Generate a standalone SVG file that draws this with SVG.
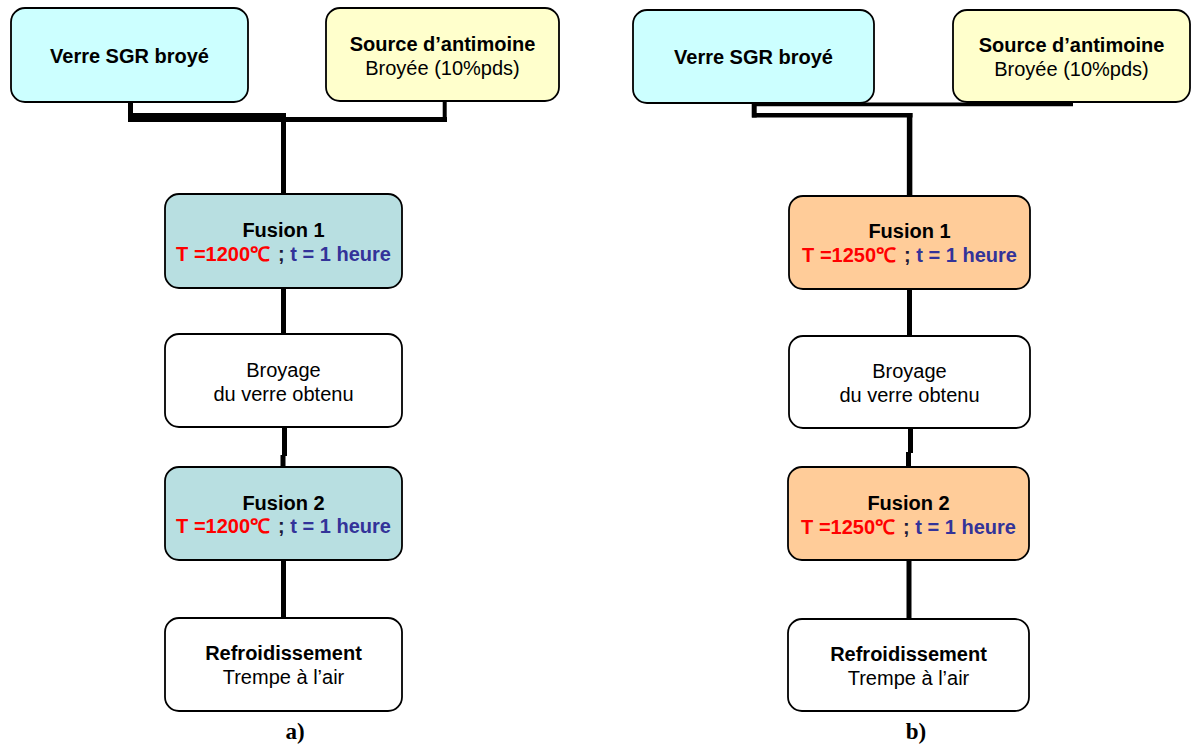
<svg xmlns="http://www.w3.org/2000/svg" width="1191" height="744" viewBox="0 0 1191 744">
<style>
.box{stroke:#000;stroke-width:1.8}
.blue{fill:#CCFFFF}
.yel{fill:#FFFFCC}
.fa{fill:#B8DFE1}
.fb{fill:#FFCC99}
.wh{fill:#FFFFFF}
.t{font-family:"Liberation Sans",Arial,sans-serif;font-size:20px;text-anchor:middle;fill:#000}
.b{font-weight:bold}
.red{fill:#FF0000}
.nav{fill:#333399}
.semi{fill:#1a1a3a}
.lab{font-family:"Liberation Serif","Times New Roman",serif;font-size:23px;font-weight:bold;text-anchor:middle;fill:#000}
.c{stroke:#000;fill:none;stroke-linecap:butt;stroke-linejoin:miter}
</style>
<rect width="1191" height="744" fill="#FFFFFF"/>
<g id="connectors">
<!-- panel a -->
<line class="c" x1="130.5" y1="100" x2="130.5" y2="117" stroke-width="5"/>
<rect x="128" y="113" width="158" height="9" fill="#000"/>
<line class="c" x1="286" y1="119.5" x2="447" y2="119.5" stroke-width="5"/>
<line class="c" x1="444.7" y1="100" x2="444.7" y2="122" stroke-width="4"/>
<line class="c" x1="283.5" y1="117" x2="283.5" y2="195" stroke-width="5"/>
<line class="c" x1="283.5" y1="287" x2="283.5" y2="335" stroke-width="5"/>
<line class="c" x1="284.5" y1="426" x2="284.5" y2="456" stroke-width="5"/>
<line class="c" x1="283" y1="455" x2="283" y2="468" stroke-width="5"/>
<line class="c" x1="283.5" y1="559" x2="283.5" y2="619" stroke-width="5"/>
<!-- panel b -->
<line class="c" x1="754.2" y1="101" x2="754.2" y2="117.5" stroke-width="5"/>
<line class="c" x1="752" y1="115.3" x2="912.5" y2="115.3" stroke-width="4.5"/>
<line class="c" x1="909.6" y1="113" x2="909.6" y2="197" stroke-width="5.5"/>
<line class="c" x1="752" y1="104.3" x2="1073" y2="104.3" stroke-width="3.8"/>
<line class="c" x1="909.5" y1="288" x2="909.5" y2="337" stroke-width="5"/>
<line class="c" x1="910.5" y1="427" x2="910.5" y2="453" stroke-width="5"/>
<line class="c" x1="908.5" y1="452" x2="908.5" y2="468" stroke-width="5"/>
<line class="c" x1="909" y1="559" x2="909" y2="620" stroke-width="5"/>
</g>
<g id="a-verre"><rect class="box blue" x="11" y="8" width="237" height="94" rx="14"/>
<text class="t b" x="129.5" y="63">Verre SGR broyé</text></g>
<g id="a-source"><rect class="box yel" x="326" y="8" width="233" height="93" rx="14"/>
<text class="t b" x="442.5" y="51">Source d’antimoine</text>
<text class="t" x="442.5" y="75">Broyée (10%pds)</text></g>
<g id="a-fusion1"><rect class="box fa" x="165" y="194" width="237" height="94" rx="14"/>
<text class="t b" x="283.5" y="237">Fusion 1</text>
<text class="t b" x="283.5" y="261"><tspan class="red">T =1200℃</tspan><tspan class="semi" dx="8">;</tspan><tspan class="nav"> t = 1 heure</tspan></text></g>
<g id="a-broyage"><rect class="box wh" x="165" y="334" width="237" height="93" rx="14"/>
<text class="t" x="283.5" y="377">Broyage</text>
<text class="t" x="283.5" y="401">du verre obtenu</text></g>
<g id="a-fusion2"><rect class="box fa" x="165" y="467" width="237" height="93" rx="14"/>
<text class="t b" x="283.5" y="510">Fusion 2</text>
<text class="t b" x="283.5" y="533"><tspan class="red">T =1200℃</tspan><tspan class="semi" dx="8">;</tspan><tspan class="nav"> t = 1 heure</tspan></text></g>
<g id="a-refroid"><rect class="box wh" x="165" y="618" width="237" height="93" rx="14"/>
<text class="t b" x="283.5" y="660">Refroidissement</text>
<text class="t" x="283.5" y="684">Trempe à l’air</text></g>
<text class="lab" x="295" y="739">a)</text>

<g id="b-verre"><rect class="box blue" x="633" y="10" width="241" height="93" rx="14"/>
<text class="t b" x="753.5" y="64">Verre SGR broyé</text></g>
<g id="b-source"><rect class="box yel" x="953" y="10" width="237" height="92" rx="14"/>
<text class="t b" x="1071.5" y="52">Source d’antimoine</text>
<text class="t" x="1071.5" y="76">Broyée (10%pds)</text></g>
<g id="b-fusion1"><rect class="box fb" x="789" y="196" width="241" height="93" rx="14"/>
<text class="t b" x="909.5" y="238">Fusion 1</text>
<text class="t b" x="909.5" y="262"><tspan class="red">T =1250℃</tspan><tspan class="semi" dx="8">;</tspan><tspan class="nav"> t = 1 heure</tspan></text></g>
<g id="b-broyage"><rect class="box wh" x="789" y="336" width="241" height="92" rx="14"/>
<text class="t" x="909.5" y="378">Broyage</text>
<text class="t" x="909.5" y="402">du verre obtenu</text></g>
<g id="b-fusion2"><rect class="box fb" x="788" y="467" width="241" height="93" rx="14"/>
<text class="t b" x="908.5" y="510">Fusion 2</text>
<text class="t b" x="908.5" y="534"><tspan class="red">T =1250℃</tspan><tspan class="semi" dx="8">;</tspan><tspan class="nav"> t = 1 heure</tspan></text></g>
<g id="b-refroid"><rect class="box wh" x="788" y="619" width="241" height="92" rx="14"/>
<text class="t b" x="908.5" y="661">Refroidissement</text>
<text class="t" x="908.5" y="685">Trempe à l’air</text></g>
<text class="lab" x="916" y="739">b)</text>
</svg>
